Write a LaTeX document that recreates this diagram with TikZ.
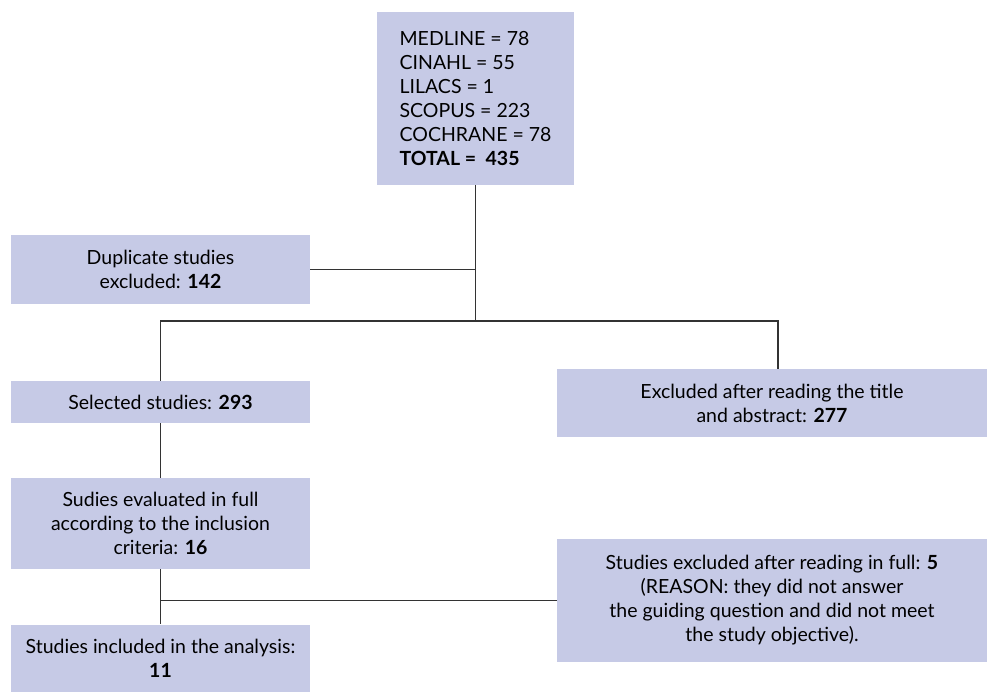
\documentclass[tikz,border=0pt]{standalone}
\usepackage{fontspec}
\setmainfont{Lato}
\definecolor{boxfill}{HTML}{C6CAE6}
\definecolor{linec}{HTML}{333333}
\tikzset{
  fbox/.style={fill=boxfill, draw=none, inner sep=0pt, align=center, text=black,
    font=\fontsize{19.5}{24}\selectfont},
  conn/.style={draw=linec, line width=1.3pt}
}
\begin{document}
\begin{tikzpicture}[x=1pt,y=-1pt]
\useasboundingbox (0,0) rectangle (987,692);
\node[fbox, minimum width=197pt, minimum height=173pt, align=left] (top) at (475.5,98.5)
  {MEDLINE = 78\\CINAHL = 55\\LILACS = 1\\SCOPUS = 223\\COCHRANE = 78\\\textbf{TOTAL =\ \ 435}};
\node[fbox, minimum width=299pt, minimum height=69pt] (dup) at (160.5,269.5)
  {Duplicate studies\\excluded: \textbf{142}};
\node[fbox, minimum width=299pt, minimum height=42pt] (sel) at (160.5,402)
  {Selected studies: \textbf{293}};
\node[fbox, minimum width=430pt, minimum height=68pt] (exc) at (772,403)
  {Excluded after reading the title\\and abstract: \textbf{277}};
\node[fbox, minimum width=299pt, minimum height=91pt] (full) at (160.5,523.5)
  {Sudies evaluated in full\\according to the inclusion\\criteria: \textbf{16}};
\node[fbox, minimum width=430pt, minimum height=123pt] (excfull) at (772,600.5)
  {Studies excluded after reading in full: \textbf{5}\\(REASON: they did not answer\\the guiding question and did not meet\\the study objective).};
\node[fbox, minimum width=299pt, minimum height=67pt] (inc) at (160.5,658)
  {Studies included in the analysis:\\\textbf{11}};
\coordinate (jm) at (475.5,321);
\coordinate (jr) at (778,321);
\draw[conn] (top.south) -- (jm);
\draw[conn] (dup.east) -- (dup.east -| top.south);
\draw[conn] (sel.north) -- (sel.north |- jm) -- (jr) -- (jr |- exc.north);
\draw[conn] (sel.south) -- (full.north);
\draw[conn] (full.south) -- (inc.north);
\draw[conn] (excfull.west) -- (excfull.west -| full.south);
\end{tikzpicture}
\end{document}
